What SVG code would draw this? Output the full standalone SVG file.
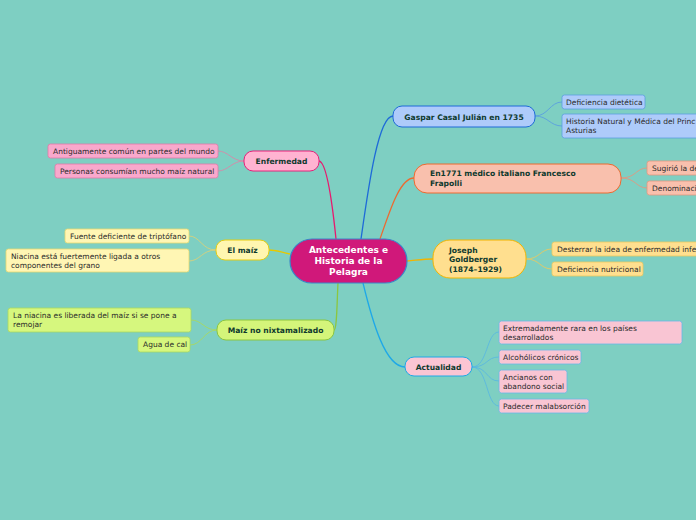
<svg xmlns="http://www.w3.org/2000/svg" width="696" height="520" viewBox="0 0 696 520">
<style>
text{font-family:"DejaVu Sans","Liberation Sans",sans-serif;}
.t{font-size:7.5px;fill:#2a2a2a;}
.b{font-size:7.6px;font-weight:bold;fill:#0f3a2e;}
.c{font-size:9px;font-weight:bold;fill:#ffffff;}
.con{fill:none;stroke-width:1.3;}
.sub{fill:none;stroke-width:0.9;}
</style>
<rect width="696" height="520" fill="#7ecfc2"/>
<g id="connectors">
<path class="con" stroke="#e8186e" d="M336,239 C332,200 326,162 319,161"/>
<path class="con" stroke="#e8c800" d="M290,254 C280,252 276,250 269,250"/>
<path class="con" stroke="#8cc63f" d="M338,283 C337,300 337,330 334,330"/>
<path class="con" stroke="#1e6ad8" d="M361,239 C368,190 378,116 393,116"/>
<path class="con" stroke="#ec6a30" d="M380,239 C390,210 400,178 414,178"/>
<path class="con" stroke="#f2b400" d="M407,261 C418,260 424,259 433,259"/>
<path class="con" stroke="#1ea8e8" d="M363,283 C372,320 385,367 405,367"/>
<path class="sub" stroke="#d888a8" d="M244,161 C232,161 228,151 218,151 M244,161 C232,161 228,171 218,171"/>
<path class="sub" stroke="#d8d07a" d="M216,250 C202,250 200,236 189,236 M216,250 C202,250 200,261 189,261"/>
<path class="sub" stroke="#a8d860" d="M217,330 C204,330 202,320 191,320 M217,330 C204,330 202,345 190,345"/>
<path class="sub" stroke="#5a9ee0" d="M535,116 C548,116 550,102 562,102 M535,116 C548,116 550,126 562,126"/>
<path class="sub" stroke="#e09880" d="M621,178 C636,178 636,168 647,168 M621,178 C636,178 636,188 647,188"/>
<path class="sub" stroke="#e8c860" d="M526,259 C540,259 540,249 552,249 M526,259 C540,259 540,269 552,269"/>
<path class="sub" stroke="#5ab8e0" d="M472,367 C488,367 486,332 499,332 M472,367 C488,367 486,357 499,357 M472,367 C488,367 486,381 499,381 M472,367 C488,367 486,406 499,406"/>
</g>
<g id="center">
<rect x="290" y="239" width="117" height="44" rx="22" fill="#d0187a" stroke="#3a86c8" stroke-width="1.2"/>
<text class="c" x="348.5" y="253" text-anchor="middle">Antecedentes e</text>
<text class="c" x="348.5" y="264" text-anchor="middle">Historia de la</text>
<text class="c" x="348.5" y="275" text-anchor="middle">Pelagra</text>
</g>
<g id="enfermedad">
<rect x="244" y="151" width="75" height="20" rx="9" fill="#ffb3d1" stroke="#e8207a" stroke-width="1"/>
<text class="b" x="281.5" y="164" text-anchor="middle">Enfermedad</text>
</g>
<g id="enf1"><rect x="48" y="144" width="170" height="14" rx="2.5" fill="#f9a8cc" stroke="#e078a8" stroke-width="0.8"/><text class="t" x="53" y="154">Antiguamente común en partes del mundo</text></g>
<g id="enf2"><rect x="55" y="164" width="163" height="14" rx="2.5" fill="#f9a8cc" stroke="#e078a8" stroke-width="0.8"/><text class="t" x="60" y="174">Personas consumían mucho maíz natural</text></g>
<g id="maiz">
<rect x="216" y="240" width="53" height="20" rx="9" fill="#fff6b0" stroke="#e6cc10" stroke-width="1"/>
<text class="b" x="242.5" y="253" text-anchor="middle">El maíz</text>
</g>
<g id="maiz1"><rect x="65" y="229" width="124" height="14" rx="2.5" fill="#fff6b4" stroke="#e6d870" stroke-width="0.8"/><text class="t" x="70" y="239">Fuente deficiente de triptófano</text></g>
<g id="maiz2"><rect x="6" y="249" width="183" height="23" rx="2.5" fill="#fff6b4" stroke="#e6d870" stroke-width="0.8"/><text class="t" x="11" y="259">Niacina está fuertemente ligada a otros</text><text class="t" x="11" y="268">componentes del grano</text></g>
<g id="nixta">
<rect x="217" y="320" width="117" height="20" rx="9" fill="#d4f57a" stroke="#8cc63f" stroke-width="1"/>
<text class="b" x="275.5" y="333" text-anchor="middle">Maíz no nixtamalizado</text>
</g>
<g id="nix1"><rect x="8" y="308" width="183" height="24" rx="2.5" fill="#d6f77e" stroke="#a8d860" stroke-width="0.8"/><text class="t" x="13" y="318">La niacina es liberada del maíz si se pone a</text><text class="t" x="13" y="327">remojar</text></g>
<g id="nix2"><rect x="138" y="337" width="52" height="15" rx="2.5" fill="#d6f77e" stroke="#a8d860" stroke-width="0.8"/><text class="t" x="143" y="347">Agua de cal</text></g>
<g id="gaspar">
<rect x="393" y="106" width="142" height="21" rx="9" fill="#aecbfa" stroke="#1e6ad8" stroke-width="1"/>
<text class="b" x="464" y="119.5" text-anchor="middle">Gaspar Casal Julián en 1735</text>
</g>
<g id="gas1"><rect x="562" y="95" width="83" height="14" rx="2.5" fill="#aecbfa" stroke="#5a9ee0" stroke-width="0.8"/><text class="t" x="566" y="105">Deficiencia dietética</text></g>
<g id="gas2"><rect x="562" y="114" width="140" height="24" rx="2.5" fill="#aecbfa" stroke="#5a9ee0" stroke-width="0.8"/><text class="t" x="566" y="124">Historia Natural y Médica del Princ</text><text class="t" x="566" y="133">Asturias</text></g>
<g id="frapolli">
<rect x="414" y="164" width="207" height="29" rx="13" fill="#f9c0ad" stroke="#ec6a30" stroke-width="1"/>
<text class="b" x="430" y="176">En1771 médico italiano Francesco</text>
<text class="b" x="430" y="186">Frapolli</text>
</g>
<g id="fra1"><rect x="647" y="161" width="55" height="14" rx="2.5" fill="#f9c0ad" stroke="#e09880" stroke-width="0.8"/><text class="t" x="652" y="171">Sugirió la de</text></g>
<g id="fra2"><rect x="647" y="181" width="55" height="14" rx="2.5" fill="#f9c0ad" stroke="#e09880" stroke-width="0.8"/><text class="t" x="652" y="191">Denominaci</text></g>
<g id="goldberger">
<rect x="433" y="240" width="93" height="38" rx="17" fill="#ffdf8f" stroke="#f2b400" stroke-width="1"/>
<text class="b" x="449" y="253">Joseph</text>
<text class="b" x="449" y="262">Goldberger</text>
<text class="b" x="449" y="272">(1874–1929)</text>
</g>
<g id="gold1"><rect x="552" y="242" width="150" height="14" rx="2.5" fill="#ffdf8f" stroke="#e8c860" stroke-width="0.8"/><text class="t" x="557" y="252">Desterrar la idea de enfermedad infe</text></g>
<g id="gold2"><rect x="552" y="262" width="91" height="14" rx="2.5" fill="#ffdf8f" stroke="#e8c860" stroke-width="0.8"/><text class="t" x="557" y="272">Deficiencia nutricional</text></g>
<g id="actualidad">
<rect x="405" y="357" width="67" height="19" rx="9" fill="#fbc5d3" stroke="#1ea8e8" stroke-width="1"/>
<text class="b" x="438.5" y="370" text-anchor="middle">Actualidad</text>
</g>
<g id="act1"><rect x="499" y="321" width="183" height="23" rx="2.5" fill="#f9c5d3" stroke="#6ab8e8" stroke-width="0.8"/><text class="t" x="503" y="331">Extremadamente rara en los países</text><text class="t" x="503" y="340">desarrollados</text></g>
<g id="act2"><rect x="499" y="350" width="82" height="14" rx="2.5" fill="#f9c5d3" stroke="#6ab8e8" stroke-width="0.8"/><text class="t" x="503" y="360">Alcohólicos crónicos</text></g>
<g id="act3"><rect x="499" y="370" width="68" height="23" rx="2.5" fill="#f9c5d3" stroke="#6ab8e8" stroke-width="0.8"/><text class="t" x="503" y="380">Ancianos con</text><text class="t" x="503" y="389">abandono social</text></g>
<g id="act4"><rect x="499" y="399" width="90" height="14" rx="2.5" fill="#f9c5d3" stroke="#6ab8e8" stroke-width="0.8"/><text class="t" x="503" y="409">Padecer malabsorción</text></g>
</svg>
